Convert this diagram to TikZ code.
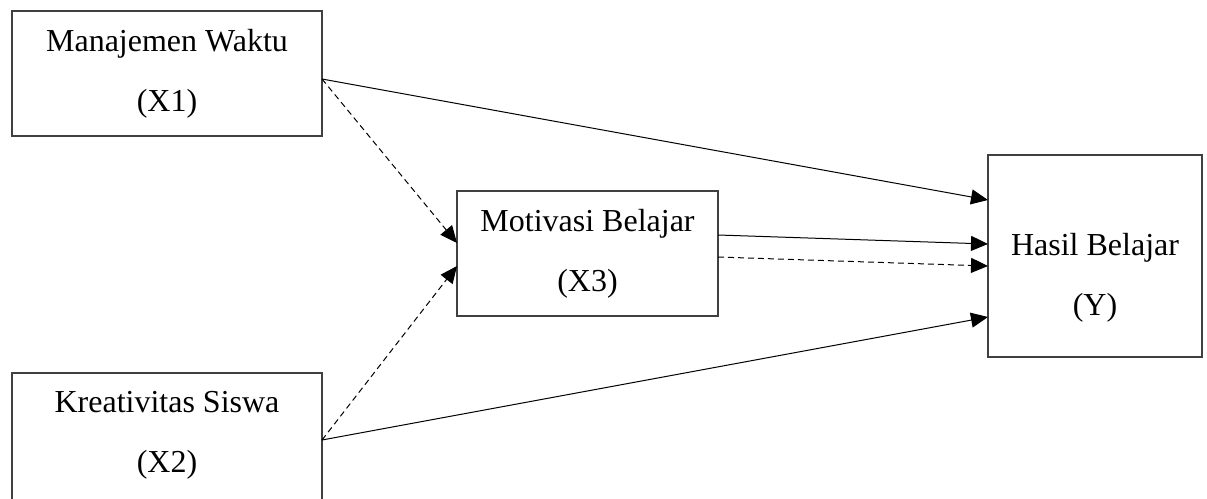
\documentclass[tikz,border=0pt]{standalone}
\usepackage{fontspec}
\setmainfont{Liberation Serif}
\usetikzlibrary{arrows.meta}
\begin{document}
\begin{tikzpicture}[x=1pt,y=-1pt,
  box/.style={draw=black!75, line width=1.3pt, outer sep=0pt, inner sep=0pt, align=center,
    font=\fontsize{32}{60}\selectfont},
  lbl/.style={inner sep=0pt, align=center, font=\fontsize{32}{60}\selectfont},
  conn/.style={line width=1pt, -{Triangle[length=17pt,width=15pt]}},
  dconn/.style={conn, dash pattern=on 6pt off 4pt}]
\useasboundingbox (0,0) rectangle (1207,498);
\node[box, minimum width=310pt, minimum height=125pt] (X1) at (167,73.5) {Manajemen Waktu\\(X1)};
\node[box, minimum width=310pt, minimum height=130pt] (X2) at (167,438) {};
\node[lbl] (X2lab) at (167,435.5) {Kreativitas Siswa\\(X2)};
\node[box, minimum width=261pt, minimum height=125pt] (X3) at (587.5,253.5) {Motivasi Belajar\\(X3)};
\node[box, minimum width=214pt, minimum height=202pt] (Y) at (1095,256) {};
\node[lbl] (Ylab) at (1095,277.5) {Hasil Belajar\\(Y)};
\draw[conn] ([yshift=-5.5pt]X1.east) -- ([yshift=56pt]Y.west);
\draw[dconn] ([yshift=-5.5pt]X1.east) -- ([yshift=10.5pt]X3.west);
\draw[dconn] ([yshift=-2pt]X2.east) -- ([yshift=-12.5pt]X3.west);
\draw[conn] ([yshift=-2pt]X2.east) -- ([yshift=-61pt]Y.west);
\draw[conn] ([yshift=18.5pt]X3.east) -- ([yshift=12pt]Y.west);
\draw[dconn] ([yshift=-3.5pt]X3.east) -- ([yshift=-10pt]Y.west);
\end{tikzpicture}
\end{document}
